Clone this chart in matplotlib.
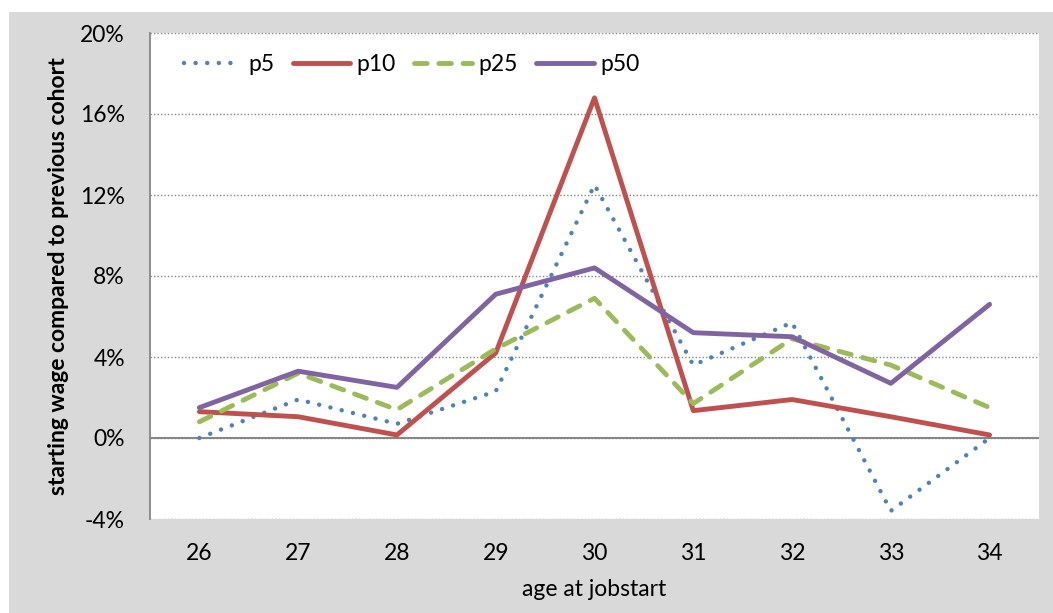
import matplotlib.pyplot as plt
from matplotlib.patches import Rectangle
from matplotlib.ticker import FuncFormatter

plt.rcParams['font.family'] = ['Lato', 'DejaVu Sans']

ages = [26, 27, 28, 29, 30, 31, 32, 33, 34]
p5 = [0.0, 1.9, 0.7, 2.3, 12.5, 3.6, 5.7, -3.6, 0.0]
p10 = [1.3, 1.05, 0.15, 4.2, 16.8, 1.35, 1.9, 1.05, 0.15]
p25 = [0.8, 3.2, 1.4, 4.4, 6.9, 1.7, 4.9, 3.6, 1.5]
p50 = [1.5, 3.3, 2.5, 7.1, 8.4, 5.2, 5.0, 2.7, 6.6]
yticks = [-4, 0, 4, 8, 12, 16, 20]

fs = 16.5

fig = plt.figure(figsize=(10.53, 6.13), dpi=100)
fig.patch.set_facecolor('white')
# grey chart background, leaving a thin white margin top and left
fig.patches.append(Rectangle((9 / 1053, 0), 1, 1 - 12 / 613, transform=fig.transFigure,
                             facecolor='#d9d9d9', edgecolor='none', zorder=-10))

ax = fig.add_axes([150 / 1053, 1 - 519 / 613, 889 / 1053, 486 / 613])
ax.set_facecolor('white')

ax.plot(ages, p5, color='#4f81bd', lw=3.2, ls=(0, (0.01, 2.6)), dash_capstyle='round',
        solid_capstyle='round', label='p5')
ax.plot(ages, p10, color='#c0504d', lw=3.5, solid_capstyle='round', label='p10')
ax.plot(ages, p25, color='#9bbb59', lw=3.5, ls=(0, (2.6, 2.4)), dash_capstyle='round', label='p25')
ax.plot(ages, p50, color='#8064a2', lw=3.5, solid_capstyle='round', label='p50')

ax.set_xlim(25.5, 34.5)
ax.set_ylim(-4, 20)
ax.set_xticks(ages)
ax.set_yticks(yticks)
ax.yaxis.set_major_formatter(FuncFormatter(lambda v, p: f'{v:.0f}%'))
ax.grid(axis='y', color='#868686', ls=(0, (1, 1.5)), lw=1)
ax.axhline(0, color='#868686', lw=1.5, zorder=1.5)
ax.set_axisbelow(True)

for s in ['top', 'right', 'bottom']:
    ax.spines[s].set_visible(False)
ax.spines['left'].set_color('#868686')
ax.spines['left'].set_linewidth(1.3)
ax.tick_params(axis='y', length=0, labelsize=fs, pad=18)
ax.tick_params(axis='x', length=0, labelsize=fs, pad=17)

ax.set_xlabel('age at jobstart', fontsize=fs, labelpad=11)
ax.set_ylabel('starting wage compared to previous cohort', fontsize=fs, fontweight='bold', labelpad=8)

ax.legend(loc='upper left', ncol=4, frameon=False, fontsize=fs, handlelength=2.5,
          columnspacing=0.8, handletextpad=0.3, bbox_to_anchor=(0.015, 1.0))

fig.savefig('out.png', dpi=100, facecolor=fig.get_facecolor())
